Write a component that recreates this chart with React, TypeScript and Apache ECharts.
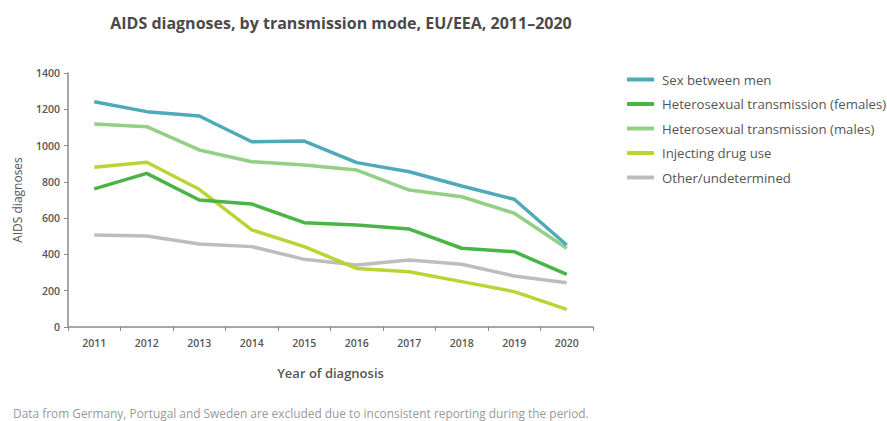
import React, { useEffect, useRef } from "react";
import * as echarts from "echarts";

const years = ["2011", "2012", "2013", "2014", "2015", "2016", "2017", "2018", "2019", "2020"];
const yTicks = [0, 200, 400, 600, 800, 1000, 1200, 1400];
const sexBetweenMen = [1242, 1187, 1163, 1021, 1025, 906, 856, 777, 704, 452];
const heteroFemales = [761, 847, 700, 678, 575, 562, 540, 434, 415, 290];
const heteroMales = [1119, 1104, 976, 911, 893, 865, 755, 718, 627, 434];
const injectingDrugUse = [880, 908, 759, 535, 443, 323, 305, 250, 195, 97];
const otherUndetermined = [507, 502, 458, 443, 373, 342, 369, 346, 281, 244];

const seriesNames = [
  "Sex between men",
  "Heterosexual transmission (females)",
  "Heterosexual transmission (males)",
  "Injecting drug use",
  "Other/undetermined",
];
const seriesData = [sexBetweenMen, heteroFemales, heteroMales, injectingDrugUse, otherUndetermined];
const colors = ["#4eaab8", "#4ab544", "#93cf84", "#b8d435", "#bdbdbd"];

const FONT = "Open Sans";

export default function App() {
  const ref = useRef<HTMLDivElement>(null);
  useEffect(() => {
    if (!ref.current) return;
    const chart = echarts.init(ref.current, undefined, { renderer: "svg" });
    chart.setOption({
      animation: false,
      backgroundColor: "#ffffff",
      textStyle: { fontFamily: FONT },
      title: [
        {
          text: "AIDS diagnoses, by transmission mode, EU/EEA, 2011–2020",
          left: 336,
          textAlign: "center",
          top: 10,
          textStyle: { fontFamily: FONT, fontSize: 16, fontWeight: "bold", color: "#4a4a4a" },
        },
        {
          text: "Data from Germany, Portugal and Sweden are excluded due to inconsistent reporting during the period.",
          left: 8,
          top: 402,
          textStyle: { fontFamily: FONT, fontSize: 11.9, fontWeight: "normal", color: "#9a9a9a" },
        },
      ],
      legend: {
        orient: "vertical",
        left: 622,
        top: 66,
        icon: "rect",
        itemWidth: 27,
        itemHeight: 4,
        itemGap: 7.5,
        textStyle: { fontFamily: FONT, fontSize: 13.2, color: "#555555", padding: [0, 0, 0, 3], lineHeight: 17 },
        data: seriesNames,
      },
      grid: { left: 68, right: 294, top: 73, bottom: 94, containLabel: false },
      xAxis: {
        type: "category",
        data: years,
        boundaryGap: true,
        name: "Year of diagnosis",
        nameLocation: "middle",
        nameGap: 39,
        nameTextStyle: { fontFamily: FONT, fontSize: 13, color: "#555555", fontWeight: 600 },
        axisLine: { lineStyle: { color: "#8a8a8a", width: 1.5 } },
        axisTick: { show: true, length: 4, lineStyle: { color: "#8a8a8a" } },
        axisLabel: { fontFamily: FONT, fontSize: 10.5, color: "#555555", fontWeight: 600, margin: 10 },
      },
      yAxis: {
        type: "value",
        min: yTicks[0],
        max: yTicks[yTicks.length - 1],
        interval: 200,
        name: "AIDS diagnoses",
        nameLocation: "middle",
        nameGap: 45,
        nameTextStyle: { fontFamily: FONT, fontSize: 12, color: "#555555" },
        axisLine: { show: true, lineStyle: { color: "#8a8a8a", width: 1.5 } },
        axisTick: { show: true, length: 4, lineStyle: { color: "#8a8a8a" } },
        axisLabel: {
          fontFamily: FONT,
          fontSize: 10.5,
          color: "#555555",
          fontWeight: 600,
          margin: 8,
          formatter: (v: number) => String(v),
        },
        splitLine: { show: false },
      },
      series: seriesNames.map((name, i) => ({
        name,
        type: "line",
        data: seriesData[i],
        symbol: "none",
        color: colors[i],
        lineStyle: { width: 3.5, color: colors[i] },
        z: 10 - i,
      })),
    });
    return () => chart.dispose();
  }, []);
  return (
    <div
      ref={ref}
      style={{ position: "fixed", left: 0, top: 0, width: 887, height: 421 }}
    />
  );
}
